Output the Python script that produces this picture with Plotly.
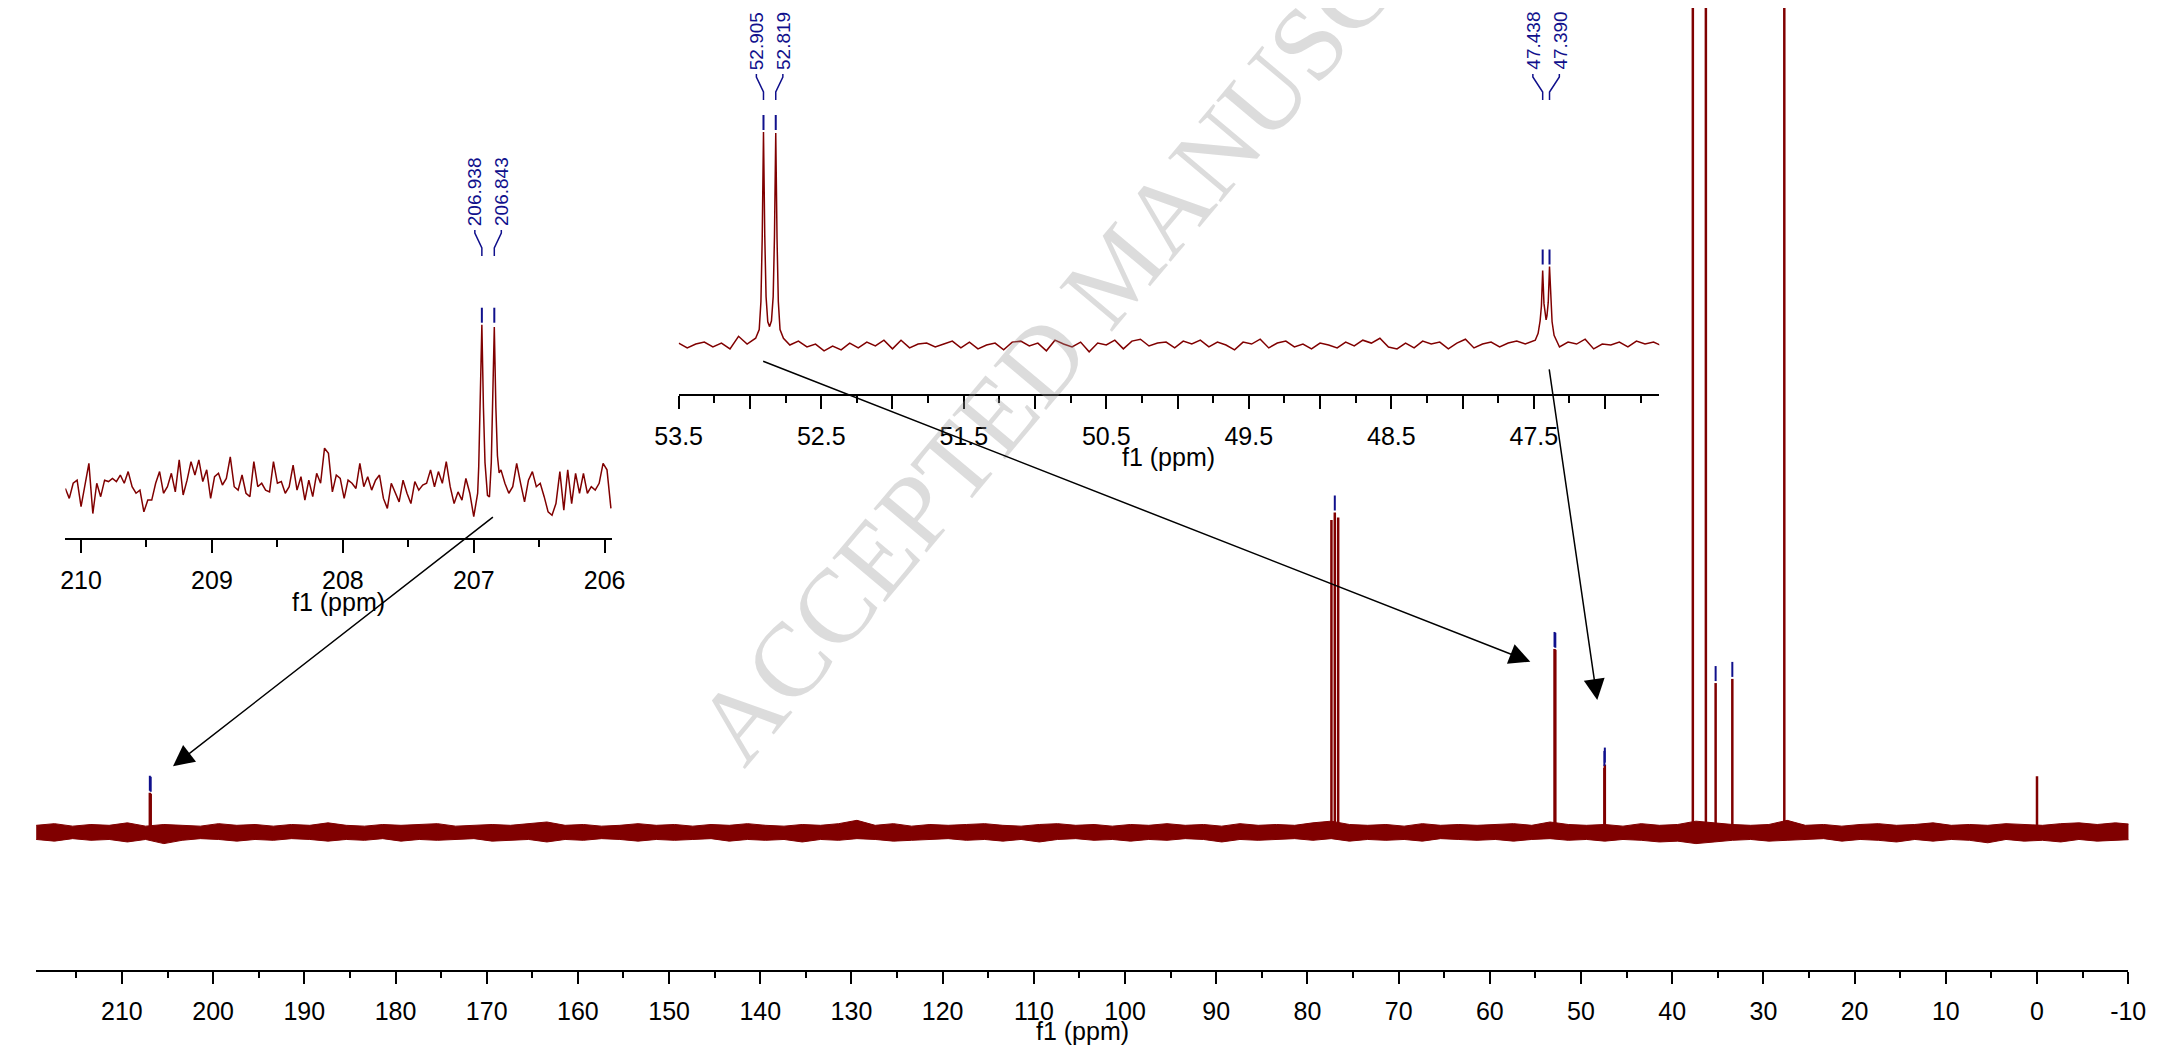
import plotly.graph_objects as go

# target picture size and the page offset of the plot div (default body margin)
SW, SH = 2170, 1048
OFF = 8
W, H = SW - OFF, SH - OFF
RED = "#800000"
NAVY = "#10108c"
FONT = "Liberation Sans"

# ---------------- data ----------------
# main 13C spectrum: peak positions (ppm) and intensities (baseline = 0)
main_peak_ppm = [206.938, 206.843, 77.37, 77.00, 76.63, 52.905, 52.819, 47.438, 47.390,
                 37.74, 36.31, 35.24, 33.41, 27.71, 0.00]
main_peak_int = [4.7, 4.6, 37.5, 38.4, 37.8, 22.0, 21.9, 7.7, 8.1,
                 130.0, 130.0, 17.9, 18.4, 130.0, 6.7]
main_marked_ppm = [206.938, 206.843, 77.00, 52.905, 52.819, 47.438, 47.390, 35.24, 33.41]

# main baseline noise envelope, sampled every 2 ppm from 219.4 ppm
main_noise_start = 219.4
main_noise_step = -2.0
main_noise_upper = [0.8, 1.0, 0.7, 0.9, 0.8, 1.1, 0.7, 0.9, 0.8, 0.7,
                    1.0, 0.8, 0.9, 0.7, 0.9, 0.8, 1.1, 0.8, 0.7, 0.9,
                    0.8, 0.9, 1.0, 0.7, 0.8, 0.9, 0.8, 1.0, 1.2, 0.8,
                    0.9, 0.7, 0.8, 1.0, 0.8, 0.9, 0.7, 0.9, 0.8, 1.0,
                    0.8, 0.7, 0.9, 0.8, 1.0, 1.4, 0.8, 1.0, 0.7, 0.9,
                    0.8, 0.9, 1.0, 0.8, 0.7, 0.9, 1.0, 0.8, 0.9, 0.7,
                    0.9, 0.8, 1.0, 0.8, 0.9, 0.7, 1.0, 0.8, 0.9, 0.8,
                    1.1, 1.3, 0.9, 0.8, 0.9, 0.7, 1.0, 0.8, 0.9, 0.8,
                    0.9, 1.0, 0.8, 1.2, 0.9, 0.8, 0.9, 0.7, 1.0, 0.8,
                    0.9, 1.3, 1.1, 0.9, 0.8, 0.9, 1.4, 0.8, 0.9, 0.7,
                    0.9, 1.0, 0.8, 0.9, 1.1, 0.8, 0.9, 0.8, 1.0, 0.9,
                    0.8, 1.0, 1.1, 0.9, 1.1, 0.9]
main_noise_lower = [-0.9, -1.1, -0.8, -1.0, -0.9, -1.2, -0.9, -1.4, -1.0, -0.8,
                    -0.9, -1.1, -0.9, -1.0, -0.8, -0.9, -1.1, -0.9, -1.0, -0.8,
                    -1.1, -0.9, -1.0, -0.9, -0.8, -1.1, -1.0, -0.9, -1.2, -0.9,
                    -1.0, -0.8, -0.9, -1.1, -0.9, -1.0, -0.9, -0.8, -1.1, -0.9,
                    -1.0, -0.9, -1.2, -0.9, -1.0, -0.8, -0.9, -1.1, -1.0, -0.9,
                    -0.8, -1.0, -0.9, -1.1, -0.9, -1.2, -0.9, -0.8, -1.0, -0.9,
                    -1.1, -0.9, -1.0, -0.8, -0.9, -1.2, -0.9, -1.0, -0.9, -0.8,
                    -1.0, -0.8, -1.1, -0.9, -1.0, -0.9, -1.1, -0.8, -0.9, -1.0,
                    -0.9, -1.1, -0.9, -0.8, -1.0, -0.9, -1.1, -0.9, -1.0, -1.2,
                    -1.1, -1.4, -1.2, -1.0, -0.9, -1.1, -1.0, -0.9, -0.8, -1.1,
                    -0.9, -1.0, -1.2, -0.9, -1.1, -0.9, -1.0, -1.3, -0.9, -1.1,
                    -1.0, -1.2, -0.9, -1.1, -1.0, -0.9]
main_tick_vals = [210, 200, 190, 180, 170, 160, 150, 140, 130, 120, 110, 100,
                  90, 80, 70, 60, 50, 40, 30, 20, 10, 0, -10]

# inset 1: 210 - 206 ppm
ins1_noise_step = -0.03
ins1_noise_a_start = 210.12
ins1_noise_a = [-0.05, -0.34, 0.10, 0.19, -0.58, 0.00, 0.68, -0.78, 0.10, -0.29,
                0.19, 0.15, 0.24, 0.15, 0.34, 0.10, 0.44, 0.00, -0.19, -0.10,
                -0.73, -0.39, -0.39, 0.10, 0.44, -0.19, 0.00, 0.39, -0.15, 0.78,
                -0.24, 0.19, 0.73, 0.34, 0.78, 0.15, 0.49, -0.34, 0.29, 0.39,
                0.05, 0.24, 0.87, 0.00, -0.10, 0.34, -0.19, -0.29, 0.73, 0.00,
                0.10, -0.10, -0.15, 0.73, 0.10, 0.15, -0.19, 0.00, 0.63, -0.10,
                0.29, -0.39, 0.19, -0.29, 0.39, 0.10, 1.12, 0.97, -0.15, 0.34,
                0.24, -0.34, 0.19, 0.10, -0.05, 0.68, 0.00, 0.29, -0.10, 0.19,
                0.34, -0.34, -0.63, 0.10, -0.19, -0.44, 0.19, -0.19, -0.49, 0.15,
                -0.10, 0.05, 0.10, 0.49, 0.00, 0.44, 0.10, 0.73, 0.00, -0.49,
                -0.15, -0.39, 0.24, -0.19, -0.87, -0.19]
ins1_peak_ppm = [206.962, 206.950, 206.938, 206.926, 206.914, 206.895, 206.880,
                 206.866, 206.855, 206.843, 206.831, 206.819, 206.806]
ins1_peak_int = [0.58, 2.3, 4.71, 2.3, 0.7, -0.25, -0.3,
                 0.7, 2.3, 4.64, 2.3, 0.9, 0.4]
ins1_noise_b_start = 206.792
ins1_noise_b = [0.49, 0.10, -0.19, 0.00, 0.68, 0.10, -0.44, 0.19, 0.44, 0.00,
                0.10, -0.29, -0.73, -0.83, -0.49, 0.44, -0.68, 0.49, -0.49, 0.39,
                -0.19, 0.39, -0.19, 0.00, -0.10, 0.10, 0.68, 0.49, -0.63]
ins1_label_groups = [[206.938, 206.843]]
ins1_tick_vals = [210, 209, 208, 207, 206]

# inset 2: 53.5 - 46.6 ppm
ins2_noise_start = 53.5
ins2_noise_step = -0.06
ins2_noise = [0.2, -0.3, 0.1, 0.3, -0.2, 0.2, -0.4, 0.9, 0.1, 0.3,
              0.0, 0.0, 0.0, 0.0, 0.4, -0.2, 0.1, -0.6, -0.1, -0.5,
              0.2, -0.3, 0.3, -0.1, 0.5, -0.4, 0.5, -0.3, 0.1, 0.2,
              -0.2, 0.1, 0.4, -0.3, 0.3, -0.4, 0.0, 0.2, -0.5, 0.3,
              0.4, -0.1, 0.2, -0.6, 0.5, 0.1, -0.2, 0.3, -0.7, 0.2,
              0.0, 0.5, -0.4, 0.4, 0.6, -0.1, 0.2, 0.3, -0.3, 0.4,
              0.1, 0.5, -0.2, 0.3, 0.0, -0.5, 0.3, 0.1, 0.6, -0.3,
              0.2, 0.4, -0.2, 0.1, -0.4, 0.2, 0.0, -0.3, 0.3, -0.1,
              0.5, 0.2, 0.7, -0.2, -0.4, 0.2, -0.3, 0.4, 0.1, 0.3,
              -0.4, 0.2, 0.6, -0.3, 0.1, 0.3, -0.2, 0.2, 0.4, 0.1,
              0.5, 0.0, 0.0, -0.2, 0.3, 0.1, 0.6, -0.4, 0.1, 0.0,
              0.3, -0.2, 0.4, 0.1, 0.3, -0.1]
ins2_peak_ppm = [52.960, 52.935, 52.923, 52.914, 52.905, 52.896, 52.887, 52.875, 52.862,
                 52.849, 52.837, 52.828, 52.819, 52.810, 52.801, 52.789, 52.765,
                 47.490, 47.470, 47.456, 47.447, 47.438, 47.429, 47.420, 47.414,
                 47.408, 47.399, 47.390, 47.381, 47.372, 47.358, 47.340]
ins2_peak_int = [0.7, 1.6, 4.5, 11.0, 22.0, 11.2, 5.0, 2.4, 1.9,
                 2.5, 5.0, 11.2, 21.9, 11.0, 4.5, 1.6, 0.7,
                 0.5, 1.2, 2.5, 4.0, 7.7, 4.3, 2.9, 2.6,
                 3.0, 4.4, 8.1, 4.1, 2.4, 1.0, 0.4]
ins2_label_groups = [[52.905, 52.819], [47.438, 47.390]]
ins2_tick_vals = [53.5, 53.0, 52.5, 52.0, 51.5, 51.0, 50.5, 50.0, 49.5, 49.0,
                  48.5, 48.0, 47.5, 47.0]
ins2_tick_text = ["53.5", "", "52.5", "", "51.5", "", "50.5", "", "49.5", "",
                  "48.5", "", "47.5", ""]

# arrows: (inset, tail ppm, tail intensity, head ppm on main, head intensity on main)
arrows = [("ins1", 206.89, -0.85, 204.4, 7.9),
          ("ins2", 52.813, -1.62, 55.56, 20.47),
          ("ins2", 47.387, -2.37, 48.22, 15.87)]

# ---------------- geometry (screen-pixel layout of the three panels) ----------------
G = {
    "main": dict(xd=(12, 2146), yd=(8, 970), xr=(219.43, -10.03), yr=(-16.59, 99.04), xa="x", ya="y"),
    "ins1": dict(xd=(42, 600), yd=(150, 538.3), xr=(210.12, 205.94), yr=(-1.5, 9.79), xa="x2", ya="y2"),
    "ins2": dict(xd=(667.5, 1667.5), yd=(8, 394), xr=(53.5, 46.62), yr=(-5.06, 34.81), xa="x3", ya="y3"),
}


def fx(px):  # screen px -> paper fraction
    return (px - OFF) / W


def fy(py):
    return 1 - (py - OFF) / H


def xpx(g, v):
    return g["xd"][0] + (v - g["xr"][0]) / (g["xr"][1] - g["xr"][0]) * (g["xd"][1] - g["xd"][0])


def xval(g, px):
    return g["xr"][0] + (px - g["xd"][0]) / (g["xd"][1] - g["xd"][0]) * (g["xr"][1] - g["xr"][0])


def ypx(g, v):
    return g["yd"][1] - (v - g["yr"][0]) / (g["yr"][1] - g["yr"][0]) * (g["yd"][1] - g["yd"][0])


def yval(g, px):
    return g["yr"][0] + (g["yd"][1] - px) / (g["yd"][1] - g["yd"][0]) * (g["yr"][1] - g["yr"][0])


fig = go.Figure()

# watermark (light grey)
fig.add_annotation(x=fx(1115), y=fy(269), xref="paper", yref="paper",
                   xanchor="center", yanchor="middle",
                   text="ACCEPTED MANUSCRIPT", showarrow=False, textangle=-50,
                   font=dict(family="Liberation Serif", size=105, color="rgba(150,150,150,0.33)"))


def add_line(g, x, y, color, width):
    fig.add_trace(go.Scatter(x=x, y=y, mode="lines", line=dict(color=color, width=width),
                             xaxis=g["xa"], yaxis=g["ya"], hoverinfo="skip", showlegend=False))


gm, g1, g2 = G["main"], G["ins1"], G["ins2"]

# ---- main spectrum ----
n = min(len(main_noise_upper), len(main_noise_lower))
band_x = [main_noise_start + main_noise_step * i for i in range(n)]
add_line(gm, band_x, main_noise_lower[:n], RED, 1)
fig.add_trace(go.Scatter(x=band_x, y=main_noise_upper[:n], mode="lines", fill="tonexty",
                         fillcolor=RED, line=dict(color=RED, width=1),
                         xaxis="x", yaxis="y", hoverinfo="skip", showlegend=False))
sx, sy = [], []
for p, h in zip(main_peak_ppm, main_peak_int):
    sx += [p, p, None]
    sy += [0, h, None]
add_line(gm, sx, sy, RED, 2.5)

peak_h = dict(zip(main_peak_ppm, main_peak_int))
mx, my = [], []
for p in main_marked_ppm:
    top = ypx(gm, peak_h[p])
    mx += [p, p, None]
    my += [yval(gm, top - 2), yval(gm, top - 17), None]
add_line(gm, mx, my, NAVY, 2)

# ---- inset 1 spectrum ----
x1 = [ins1_noise_a_start + ins1_noise_step * i for i in range(len(ins1_noise_a))]
x1 += ins1_peak_ppm
x1 += [ins1_noise_b_start + ins1_noise_step * i for i in range(len(ins1_noise_b))]
y1 = ins1_noise_a + ins1_peak_int + ins1_noise_b
add_line(g1, x1, y1, RED, 1.5)

# ---- inset 2 spectrum ----
pts = []
for i, v in enumerate(ins2_noise):
    p = ins2_noise_start + ins2_noise_step * i
    if 52.765 < p < 52.965 or 47.335 < p < 47.495:
        continue
    pts.append((p, v))
pts += list(zip(ins2_peak_ppm, ins2_peak_int))
pts.sort(key=lambda t: -t[0])
add_line(g2, [p for p, _ in pts], [v for _, v in pts], RED, 1.5)


# ---- peak labels, brackets and marks in the insets ----
def labels(g, groups, peak_ppm, peak_int, label_bottom):
    hmap = dict(zip(peak_ppm, peak_int))
    bx, by, kx, ky = [], [], [], []
    for grp in groups:
        pxs = [xpx(g, p) for p in grp]
        mid = sum(pxs) / len(pxs)
        top = min(ypx(g, hmap[p]) for p in grp)
        for i, p in enumerate(grp):
            lx = mid + (-13.5 if i == 0 else 13.5)
            fig.add_annotation(x=p, xref=g["xa"], xshift=lx - pxs[i],
                               y=fy(label_bottom), yref="paper",
                               xanchor="center", yanchor="bottom", textangle=-90,
                               text=f"{p:.3f}", showarrow=False,
                               font=dict(family=FONT, size=19, color=NAVY))
            for qx, qy in [(lx, label_bottom + 2), (lx, label_bottom + 5),
                           (pxs[i], label_bottom + 20), (pxs[i], label_bottom + 28)]:
                bx.append(xval(g, qx))
                by.append(yval(g, qy))
            bx.append(None)
            by.append(None)
            kx += [p, p, None]
            ky += [yval(g, top - 2), yval(g, top - 17), None]
    add_line(g, bx, by, NAVY, 1.5)
    add_line(g, kx, ky, NAVY, 2)


labels(g1, ins1_label_groups, ins1_peak_ppm, ins1_peak_int, 228)
labels(g2, ins2_label_groups, ins2_peak_ppm, ins2_peak_int, 72)

# ---- arrows ----
for ins, tx, ty, hx, hy in arrows:
    gi = G[ins]
    fig.add_annotation(x=hx, y=hy, xref="x", yref="y", text="", showarrow=True,
                       ax=xpx(gi, tx) - xpx(gm, hx), ay=ypx(gi, ty) - ypx(gm, hy),
                       axref="pixel", ayref="pixel", arrowhead=2, arrowsize=2.8,
                       arrowwidth=1.5, arrowcolor="black", standoff=0)


# ---- axes ----
def xaxis_cfg(g, tickvals, ticktext, minor_dtick, ticklen, minorlen):
    return dict(domain=[fx(g["xd"][0]), fx(g["xd"][1])], range=list(g["xr"]), anchor=g["ya"],
                tickmode="array", tickvals=tickvals, ticktext=ticktext, ticks="outside",
                ticklen=ticklen, tickwidth=1.5, tickcolor="black", showline=True,
                linecolor="black", linewidth=1.5, showgrid=False, zeroline=False,
                tickfont=dict(family=FONT, size=25, color="black"), ticklabelstandoff=6,
                minor=dict(ticks="outside", ticklen=minorlen, tickwidth=1.5, tickcolor="black",
                           tickmode="linear", tick0=0, dtick=minor_dtick, showgrid=False),
                fixedrange=True)


def yaxis_cfg(g):
    return dict(domain=[fy(g["yd"][1]), fy(g["yd"][0])], range=list(g["yr"]),
                anchor=g["xa"], visible=False, fixedrange=True)


fig.update_layout(
    xaxis=xaxis_cfg(gm, main_tick_vals, [str(v) for v in main_tick_vals], 5, 12, 6),
    yaxis=yaxis_cfg(gm),
    xaxis2=xaxis_cfg(g1, ins1_tick_vals, [str(v) for v in ins1_tick_vals], 0.5, 13, 7),
    yaxis2=yaxis_cfg(g1),
    xaxis3=xaxis_cfg(g2, ins2_tick_vals, ins2_tick_text, 0.25, 13, 7),
    yaxis3=yaxis_cfg(g2),
)

# axis titles
for g, off in ((gm, 61), (g1, 64), (g2, 63)):
    fig.add_annotation(x=fx((g["xd"][0] + g["xd"][1]) / 2), y=fy(g["yd"][1] + off),
                       xref="paper", yref="paper", text="f1 (ppm)", showarrow=False,
                       xanchor="center", yanchor="middle",
                       font=dict(family=FONT, size=25, color="black"))

fig.update_layout(width=W, height=H, margin=dict(l=0, r=0, t=0, b=0),
                  paper_bgcolor="white", plot_bgcolor="rgba(0,0,0,0)", showlegend=False)

fig.write_html("out.html")
